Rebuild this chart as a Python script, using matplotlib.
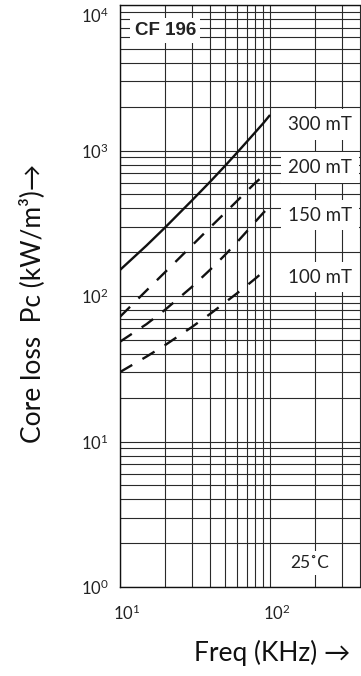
import numpy as np
import matplotlib
matplotlib.use("Agg")
import matplotlib.pyplot as plt
from matplotlib.ticker import LogLocator, NullFormatter, FixedLocator
from matplotlib.transforms import ScaledTranslation

plt.rcParams['font.family'] = ['Lato', 'DejaVu Sans']

# Frequency (kHz) sample points
freq = [10, 15, 20, 30, 40, 50, 60, 70, 80, 90, 100]
freq_200 = [10, 15, 20, 30, 40, 50, 60, 70, 80, 90]
freq_100 = [10, 15, 20, 30, 40, 50, 60, 70, 80, 90]

# Core loss (kW/m3) per flux density
loss_300 = [151, 222, 296, 451, 612, 782, 961, 1148, 1340, 1537, 1754]
loss_200 = [72, 109, 146, 221, 297, 372, 448, 525, 601, 668]
loss_150 = [48.5, 64, 80.5, 115, 152, 191, 233, 278, 325, 372, 415]
loss_100 = [30, 38.3, 46, 61, 75.5, 90, 104, 118, 132, 146.5]

W, H = 361, 676
fig = plt.figure(figsize=(W/100, H/100), dpi=100)
ax = fig.add_axes([120/W, (H-587)/H, 241/W, 582/H])

ax.set_xscale('log')
ax.set_yscale('log')
ax.set_xlim(10, 404)
ax.set_ylim(1, 1e4)

ax.plot(freq, loss_300, color='#111111', lw=1.7, solid_capstyle='butt', zorder=3)
for fx, ly in [(freq_200, loss_200), (freq, loss_150), (freq_100, loss_100)]:
    ax.plot(fx, ly, color='#111111', lw=1.7, ls=(0, (6, 5)),
            dash_capstyle='butt', zorder=3)

# log grid, every line the same weight
ax.xaxis.set_major_locator(FixedLocator([10, 100]))
ax.xaxis.set_minor_locator(LogLocator(base=10, subs=np.arange(2, 10), numticks=20))
ax.yaxis.set_major_locator(FixedLocator([1, 10, 100, 1000, 10000]))
ax.yaxis.set_minor_locator(LogLocator(base=10, subs=np.arange(2, 10), numticks=20))
ax.xaxis.set_minor_formatter(NullFormatter())
ax.yaxis.set_minor_formatter(NullFormatter())
ax.grid(which='both', color='#2a2a2a', lw=0.8)
ax.set_axisbelow(True)
ax.tick_params(which='both', length=0, labelsize=12, colors='#222222')
ax.tick_params(axis='x', pad=12)
ax.tick_params(axis='y', pad=8)
for lab in ax.get_xticklabels():
    lab.set_transform(lab.get_transform() + ScaledTranslation(7/100, 0, fig.dpi_scale_trans))
# top y label sits a little below its line, as in the original
top_tick = ax.yaxis.get_major_ticks()[4]
top_tick.label1.set_transform(top_tick.label1.get_transform()
                              + ScaledTranslation(0, -10/100, fig.dpi_scale_trans))

ax.spines['right'].set_visible(False)
for s in ['left', 'bottom', 'top']:
    ax.spines[s].set_color('#111111')
    ax.spines[s].set_linewidth(1.0)

box = dict(facecolor='white', edgecolor='none', pad=3)
ax.text(20, 6700, 'CF 196', family='Liberation Sans', weight='bold', fontsize=13.5,
        ha='center', va='center', bbox=box, zorder=5, color='#222222')
for txt, yv in [('300 mT', 1500), ('200 mT', 760), ('150 mT', 360), ('100 mT', 135)]:
    ax.text(215, yv, txt, fontsize=13.5, ha='center', va='center', color='#222222',
            bbox=dict(facecolor='white', edgecolor='none', pad=5), zorder=5)
ax.text(185, 1.46, '25˚C', fontsize=12.5, ha='center', va='center', color='#222222',
        bbox=box, zorder=5)

fig.text(32/W, 1-303/H, 'Core loss  Pc (kW/m³)→', rotation=90, fontsize=19,
         ha='center', va='center', color='#111111')
fig.text(272/W, 1-653/H, 'Freq (KHz) →', fontsize=19,
         ha='center', va='center', color='#111111')

fig.savefig('out.png', dpi=100)
